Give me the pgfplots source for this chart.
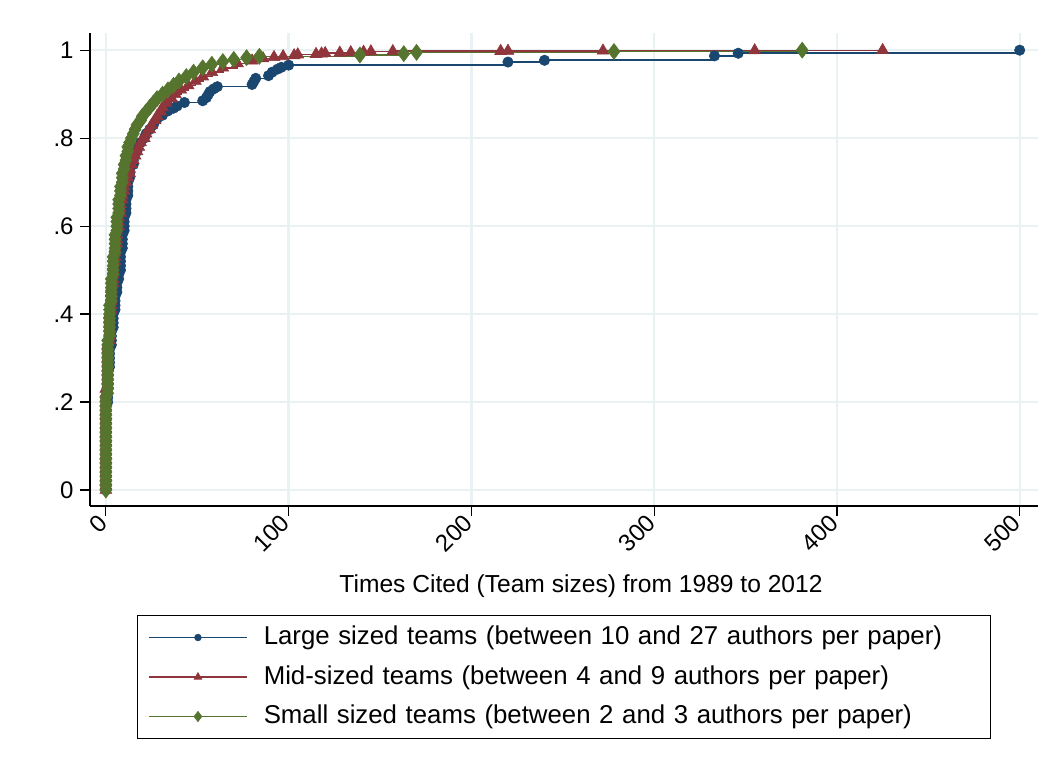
\documentclass[border=0pt]{standalone}
\usepackage{fontspec}
\setmainfont{Liberation Sans}
\usepackage{pgfplots}
\pgfplotsset{compat=1.18}
\usepackage{pgfplotstable}

\definecolor{stnavy}{RGB}{26,71,111}
\definecolor{stmaroon}{RGB}{144,53,59}
\definecolor{stgreen}{RGB}{85,117,47}
\definecolor{gridc}{RGB}{234,241,243}

% Cumulative share of papers (y) by times cited (x), sorted
\pgfplotstableread[row sep=\\]{
x y\\
0 0.00\\0 0.01\\0 0.02\\0 0.03\\0 0.04\\0 0.05\\0 0.06\\0 0.07\\0 0.08\\0 0.09\\
0 0.10\\0 0.11\\0 0.12\\0 0.13\\0 0.14\\0 0.15\\0 0.16\\0 0.17\\0 0.18\\0 0.19\\
1 0.20\\1 0.21\\1 0.22\\1 0.23\\1 0.24\\1 0.25\\1 0.26\\1 0.27\\
2 0.28\\2 0.29\\2 0.30\\2 0.31\\2 0.32\\
3 0.33\\3 0.34\\3 0.35\\3 0.36\\
4 0.37\\4 0.38\\4 0.39\\4 0.40\\
5 0.41\\5 0.42\\5 0.43\\5 0.44\\
6 0.45\\6 0.46\\6 0.47\\7 0.48\\7 0.49\\
8 0.50\\8 0.51\\8 0.52\\8 0.53\\8 0.54\\9 0.55\\9 0.56\\9 0.57\\9 0.58\\
10 0.59\\10 0.60\\10 0.61\\10 0.62\\11 0.63\\11 0.64\\11 0.65\\11 0.66\\
12 0.67\\12 0.68\\12 0.69\\12 0.70\\13 0.71\\13 0.72\\13 0.73\\15 0.74\\15 0.75\\15 0.76\\
17 0.77\\17 0.78\\19 0.79\\21 0.80\\22 0.81\\24 0.82\\26 0.83\\
28 0.843\\31 0.852\\34 0.862\\37 0.868\\39 0.873\\43 0.881\\53 0.885\\55 0.892\\
56 0.899\\57 0.906\\59 0.912\\61 0.917\\80 0.922\\81 0.929\\82 0.936\\89 0.942\\91 0.950\\94 0.957\\
96 0.961\\100 0.966\\220 0.973\\240 0.977\\333 0.987\\346 0.993\\500 1.000\\
}\largeteams

\pgfplotstableread[row sep=\\]{
x y\\
0 0.00\\0 0.01\\0 0.02\\0 0.03\\0 0.04\\0 0.05\\0 0.06\\0 0.07\\0 0.08\\0 0.09\\
0 0.10\\0 0.11\\0 0.12\\0 0.13\\0 0.14\\0 0.15\\0 0.16\\0 0.17\\0 0.18\\0 0.19\\
0 0.20\\0 0.21\\0 0.22\\0 0.23\\
1 0.24\\1 0.25\\1 0.26\\1 0.27\\1 0.28\\1 0.29\\1 0.30\\1 0.31\\1 0.32\\1 0.33\\
2 0.34\\2 0.35\\2 0.36\\2 0.37\\2 0.38\\2 0.39\\2 0.40\\
3 0.41\\3 0.42\\3 0.43\\3 0.44\\3 0.45\\3 0.46\\
4 0.47\\4 0.48\\4 0.49\\4 0.50\\4 0.51\\
5 0.52\\5 0.53\\5 0.54\\5 0.55\\
6 0.56\\6 0.57\\6 0.58\\6 0.59\\
7 0.60\\7 0.61\\7 0.62\\
8 0.63\\8 0.64\\8 0.65\\
9 0.66\\9 0.67\\10 0.68\\10 0.69\\
11 0.70\\12 0.71\\13 0.72\\13 0.73\\14 0.74\\15 0.75\\16 0.76\\17 0.77\\18 0.78\\19 0.79\\
21 0.80\\22 0.81\\24 0.82\\25 0.83\\27 0.84\\28 0.85\\30 0.86\\31 0.87\\33 0.88\\36 0.89\\
38 0.90\\41 0.91\\45 0.92\\49 0.93\\53 0.94\\58 0.95\\64 0.96\\72 0.97\\80 0.976\\86 0.981\\
92 0.984\\97 0.986\\103 0.988\\105 0.990\\115 0.991\\118 0.992\\120 0.993\\128 0.994\\134 0.995\\141 0.996\\
145 0.997\\157 0.9975\\216 0.998\\220 0.9983\\272 0.9987\\355 0.9993\\425 1.000\\
}\midteams

\pgfplotstableread[row sep=\\]{
x y\\
0 0.00\\0 0.01\\0 0.02\\0 0.03\\0 0.04\\0 0.05\\0 0.06\\0 0.07\\0 0.08\\0 0.09\\
0 0.10\\0 0.11\\0 0.12\\0 0.13\\0 0.14\\0 0.15\\0 0.16\\0 0.17\\0 0.18\\0 0.19\\
0 0.20\\0 0.21\\
1 0.22\\1 0.23\\1 0.24\\1 0.25\\1 0.26\\1 0.27\\1 0.28\\1 0.29\\1 0.30\\1 0.31\\1 0.32\\1 0.33\\1 0.34\\
2 0.35\\2 0.36\\2 0.37\\2 0.38\\2 0.39\\2 0.40\\2 0.41\\2 0.42\\
3 0.43\\3 0.44\\3 0.45\\3 0.46\\3 0.47\\3 0.48\\
4 0.49\\4 0.50\\4 0.51\\4 0.52\\4 0.53\\
5 0.54\\5 0.55\\5 0.56\\5 0.57\\5 0.58\\
6 0.59\\6 0.60\\6 0.61\\6 0.62\\
7 0.63\\7 0.64\\7 0.65\\7 0.66\\
8 0.67\\8 0.68\\8 0.69\\
9 0.70\\9 0.71\\9 0.72\\
10 0.73\\10 0.74\\11 0.75\\11 0.76\\12 0.77\\12 0.78\\13 0.79\\14 0.80\\15 0.81\\16 0.82\\
17 0.83\\19 0.84\\20 0.85\\22 0.86\\24 0.87\\26 0.88\\28 0.89\\31 0.90\\34 0.91\\37 0.92\\
40 0.93\\44 0.94\\48 0.95\\53 0.96\\58 0.968\\64 0.974\\70 0.979\\77 0.983\\84 0.986\\
139 0.989\\163 0.992\\170 0.995\\278 0.997\\381 1.000\\
}\smallteams

\begin{document}
\begin{tikzpicture}[font=\fontsize{12}{14}\selectfont]
\begin{axis}[
  scale only axis,
  width=474pt, height=236.5pt,
  xmin=-8.7, xmax=510, ymin=-0.0364, ymax=1.039,
  axis lines*=left,
  axis line style={black, line width=0.75pt},
  tick align=outside,
  major tick length=5pt,
  tick style={black, line width=0.6pt},
  xtick={0,100,200,300,400,500},
  ytick={0,0.2,0.4,0.6,0.8,1},
  yticklabels={0,.2,.4,.6,.8,1},
  /pgf/number format/assume math mode=true,
  xticklabel style={rotate=45, anchor=east, inner sep=2pt},
  yticklabel style={inner sep=3pt},
  grid=major,
  major grid style={gridc, line width=1.2pt},
  xlabel={Times Cited (Team sizes) from 1989 to 2012},
  xlabel style={at={(axis description cs:0.518,-0.182)}, anchor=base,
    font=\fontsize{12.3}{14}\selectfont},
  legend cell align=left,
  legend style={
    at={(axis description cs:0.5,-0.2304)}, anchor=north,
    draw=black, line width=0.5pt,
    inner xsep=5.5pt, inner ysep=4.5pt, row sep=6.75pt,
    font=\fontsize{12.9}{15}\selectfont,
    nodes={inner sep=0pt, text height=10pt, text depth=3pt},
    /tikz/every even column/.append style={text width=358pt},
  },
  legend image code/.code={
    \draw[mark repeat=2, mark phase=2, every mark/.append style={scale=0.65}, #1]
      plot coordinates {(0pt,0pt) (24.5pt,0pt) (49pt,0pt)};
    \path (57pt,0pt);
  },
  clip=false,
]
\addplot[const plot, stnavy, line width=0.8pt, mark=*, mark size=2.6pt,
  mark options={fill=stnavy, draw=stnavy, line width=0.3pt}]
  table[x=x, y=y] {\largeteams};
\addlegendentry{Large sized teams (between 10 and 27 authors per paper)}

\addplot[const plot, stmaroon, line width=0.8pt, mark=triangle*, mark size=3.4pt,
  mark options={fill=stmaroon, draw=stmaroon, line width=0.3pt}]
  table[x=x, y=y] {\midteams};
\addlegendentry{Mid-sized teams (between 4 and 9 authors per paper)}

\addplot[const plot, stgreen, line width=0.8pt, mark=diamond*, mark size=4pt,
  mark options={fill=stgreen, draw=stgreen, line width=0.3pt}]
  table[x=x, y=y] {\smallteams};
\addlegendentry{Small sized teams (between 2 and 3 authors per paper)}

\coordinate (pagebl) at (rel axis cs:-0.0949,-0.5539);
\coordinate (pagetr) at (rel axis cs:1.0127,1.0698);
\end{axis}
\path (pagebl) rectangle (pagetr);
\end{tikzpicture}
\end{document}
